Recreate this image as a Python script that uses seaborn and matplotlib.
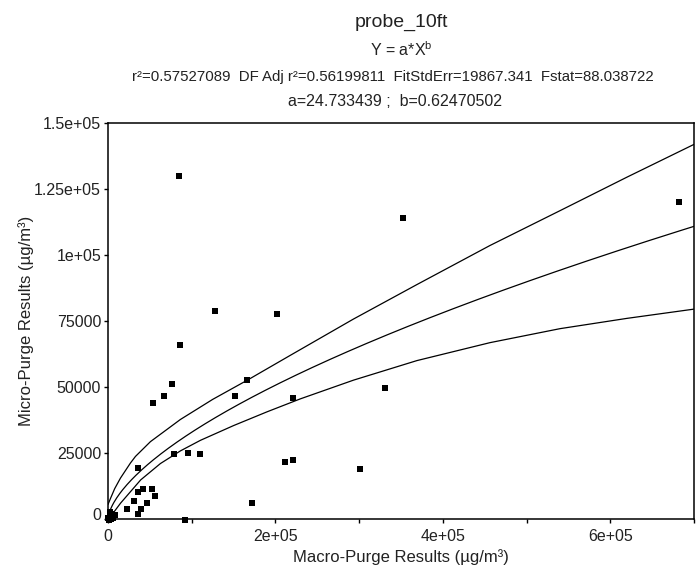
import matplotlib
matplotlib.use("Agg")
import matplotlib.pyplot as plt
import matplotlib.transforms as mtransforms
from matplotlib.ticker import MultipleLocator, FuncFormatter
import numpy as np
import pandas as pd
import seaborn as sns

# ---- data ----
macro = [86500, 77000, 67400, 54300, 166500, 151800, 220500, 79000, 95700, 110000,
         211000, 220500, 172400, 36000, 36000, 41500, 52700, 56300, 31600, 47100,
         22400, 39100, 36000, 92100, 84500, 127400, 202300, 351800, 331100, 301000,
         682000, 1000, 2500, 4000, 6000, 8000, 2000, 500, 3500]
micro = [65800, 51000, 46700, 43800, 52600, 46700, 45700, 24600, 25100, 24600,
         21700, 22200, 6200, 19300, 10200, 11400, 11400, 8600, 6800, 6100,
         3800, 3700, 1900, -500, 130000, 78800, 77600, 114000, 49600, 19100,
         119900, -300, 800, 1800, 500, 1500, 2500, 200, 0]

# fitted model Y = a*X^b (parameters printed on the chart)
a_fit = 24.733439
b_fit = 0.62470502

# confidence band curves
upper_x = [0, 3000, 8000, 14900, 26800, 32800, 50700, 86500, 125000, 166500,
           217800, 293000, 369000, 456300, 540000, 620000, 700000]
upper_y = [5500, 7800, 11500, 15500, 21200, 23700, 29300, 37700, 45300, 52600,
           62000, 75700, 88800, 103600, 116800, 129500, 141900]
lower_x = [0, 7000, 15000, 39000, 62600, 86500, 110400, 150100, 190000, 229700,
           293300, 369000, 456300, 540000, 620000, 700000]
lower_y = [0, 2600, 6000, 14800, 21000, 25800, 29800, 35400, 40600, 45500,
           52600, 60000, 66800, 72100, 76000, 79500]

title = "probe_10ft"
line2 = r"Y = a*X$^{\mathregular{b}}$"
line3 = "r²=0.57527089  DF Adj r²=0.56199811  FitStdErr=19867.341  Fstat=88.038722"
line4 = "a=24.733439 ;  b=0.62470502"
xlabel = "Macro-Purge Results (µg/m³)"
ylabel = "Micro-Purge Results (µg/m³)"

# ---- styling ----
sns.set_style("white")
plt.rcParams["font.family"] = ["Liberation Sans", "DejaVu Sans"]
plt.rcParams["mathtext.fontset"] = "custom"
plt.rcParams["mathtext.rm"] = "Liberation Sans"
plt.rcParams["mathtext.it"] = "Liberation Sans"

fig = plt.figure(figsize=(6.97, 5.70), dpi=100)
ax = fig.add_axes([108/697, 51/570, (694-108)/697, (519-123)/570])

fit_x = np.linspace(0, 700000, 400)
fit_df = pd.DataFrame({"x": fit_x, "y": a_fit * fit_x ** b_fit})
up_df = pd.DataFrame({"x": upper_x, "y": upper_y})
lo_df = pd.DataFrame({"x": lower_x, "y": lower_y})
for d in (up_df, fit_df, lo_df):
    sns.lineplot(data=d, x="x", y="y", ax=ax, color="black", linewidth=0.9,
                 estimator=None, sort=False)

pts = pd.DataFrame({"macro": macro, "micro": micro})
sns.scatterplot(data=pts, x="macro", y="micro", ax=ax, marker="s", s=22,
                color="black", edgecolor="black", linewidth=0, clip_on=False, zorder=5)

ax.set_xlim(0, 700000)
ax.set_ylim(0, 150000)
ax.xaxis.set_major_locator(MultipleLocator(200000))
ax.xaxis.set_minor_locator(MultipleLocator(100000))
ax.yaxis.set_major_locator(MultipleLocator(25000))

def xfmt(v, pos):
    if v == 0:
        return "0"
    return f"{v:.0e}"
def yfmt(v, pos):
    if v == 0:
        return "0"
    if v >= 100000:
        return f"{v/1e5:g}e+05"
    return f"{int(v)}"
ax.xaxis.set_major_formatter(FuncFormatter(xfmt))
ax.yaxis.set_major_formatter(FuncFormatter(yfmt))

ax.tick_params(axis="both", which="major", direction="out", length=3, width=1,
               color="black", labelsize=11.5, labelcolor="#222222", pad=2, left=True, bottom=True)
ax.tick_params(axis="x", which="major", pad=4)
ax.tick_params(axis="x", which="minor", direction="out", length=3, width=1,
               color="black", bottom=True)
for sp in ax.spines.values():
    sp.set_visible(True)
    sp.set_color("black")
    sp.set_linewidth(1.1)

ax.set_xlabel(xlabel, fontsize=12, color="#222222", labelpad=4)
ax.set_ylabel(ylabel, fontsize=12, color="#222222", labelpad=0)

fig.canvas.draw()
# nudge the y "0" label upward a little, as in the reference
for lab in ax.get_yticklabels():
    if lab.get_text() == "0":
        lab.set_transform(lab.get_transform() + mtransforms.ScaledTranslation(0, 5/100, fig.dpi_scale_trans))

cx = (108 + 694) / 2 / 697
fig.text(cx, 1 - 22/570, title, ha="center", va="center", fontsize=14, color="#222222")
fig.text(cx, 1 - 50/570, line2, ha="center", va="center", fontsize=11.5, color="#222222")
fig.text(cx - 8/697, 1 - 77/570, line3, ha="center", va="center", fontsize=10.8, color="#222222")
fig.text(cx - 6/697, 1 - 102/570, line4, ha="center", va="center", fontsize=11.5, color="#222222")

fig.savefig("out.png", dpi=100)
